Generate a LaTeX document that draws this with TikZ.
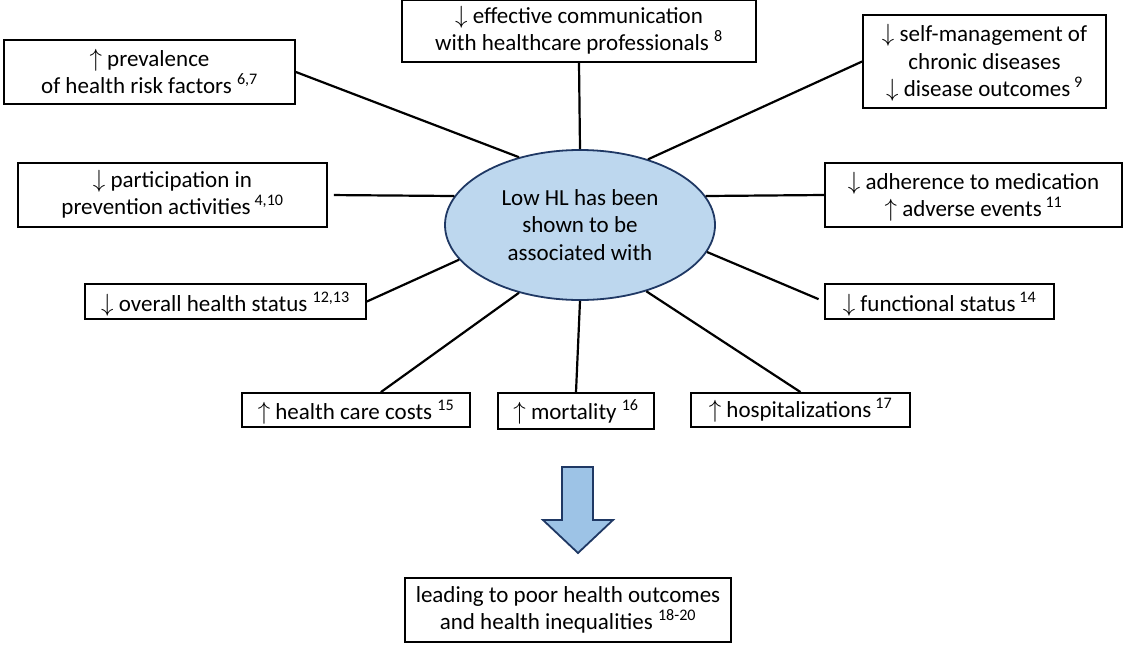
\documentclass[tikz,border=0pt]{standalone}
\usepackage{fontspec}
\setmainfont{Carlito}
\usetikzlibrary{shapes.geometric}
\definecolor{hlfill}{HTML}{BDD7EE}
\definecolor{hlline}{HTML}{1F3864}
\definecolor{arrfill}{HTML}{9DC3E6}
\newcommand{\incr}{\smash{$\uparrow$}}
\newcommand{\decr}{\smash{$\downarrow$}}

\begin{document}
\begin{tikzpicture}[x=1pt, y=-1pt,
        font=\fontsize{23}{27.5}\selectfont,
        hlbox/.style={draw, line width=1.8pt, align=center, inner sep=0pt},
        link/.style={line width=2.2pt}]
        \useasboundingbox (0,0) rectangle (1132,646);
        \node[ellipse, draw=hlline, fill=hlfill, line width=1.8pt, minimum width=270, minimum height=150, align=center] (hl) at (580,225) {Low HL has been\\shown to be\\associated with};

        \node[hlbox, minimum width=291, minimum height=64] (risk)   at (149.5,72)  {\incr{} prevalence\\of health risk factors \textsuperscript{6,7}};
        \node[hlbox, minimum width=354, minimum height=62] (comm)   at (579,31)    {\decr{} effective communication\\with healthcare professionals \textsuperscript{8}};
        \node[hlbox, minimum width=243, minimum height=93] (selfm)  at (984.5,61.5) {\decr{} self-management of\\chronic diseases\\\decr{} disease outcomes\,\textsuperscript{9}};
        \node[hlbox, minimum width=309, minimum height=64] (prev)   at (172.5,195) {\decr{} participation in\\prevention activities\,\textsuperscript{4,10}};
        \node[hlbox, minimum width=297, minimum height=64] (adher)  at (973.5,195) {\decr{} adherence to medication\\\incr{} adverse events\,\textsuperscript{11}};
        \node[hlbox, minimum width=281, minimum height=35] (status) at (225.5,301.5) {\decr{} overall health status \textsuperscript{12,13}};
        \node[hlbox, minimum width=229, minimum height=35] (func)   at (939.5,301.5) {\decr{} functional status\,\textsuperscript{14}};
        \node[hlbox, minimum width=228, minimum height=34] (costs)  at (356,410)   {\incr{} health care costs \textsuperscript{15}};
        \node[hlbox, minimum width=156, minimum height=36] (mort)   at (576,411)   {\incr{} mortality \textsuperscript{16}};
        \node[hlbox, minimum width=219, minimum height=34] (hosp)   at (800.5,410) {\incr{} hospitalizations\,\textsuperscript{17}};
        \node[hlbox, minimum width=326, minimum height=64] (lead)   at (568,610)   {leading to poor health outcomes\\and health inequalities \textsuperscript{18-20}};

        \draw[link] (risk.east) -- (hl.132);
        \draw[link] (comm.south) -- (hl.north);
        \draw[link] (selfm.west) -- (hl.44);
        \draw[link, shorten <=6pt] (prev.east) -- (hl.167);
        \draw[link] (hl.13) -- (adher.west);
        \draw[link] (status.east) -- (hl.196);
        \draw[link, shorten >=6pt] (hl.348) -- (func.west);
        \draw[link] (hl.228) -- (costs);
        \draw[link] (hl.south) -- (mort.north);
        \draw[link] (hl.315) -- (hosp.north);

        % big arrow down to the outcome
        \draw[hlline, fill=arrfill, line width=1.8pt, line join=miter]
                (562,467) -- (593,467) -- (593,520) -- (613,520) -- (578,553)
                -- (543,520) -- (562,520) -- cycle;
\end{tikzpicture}
\end{document}
